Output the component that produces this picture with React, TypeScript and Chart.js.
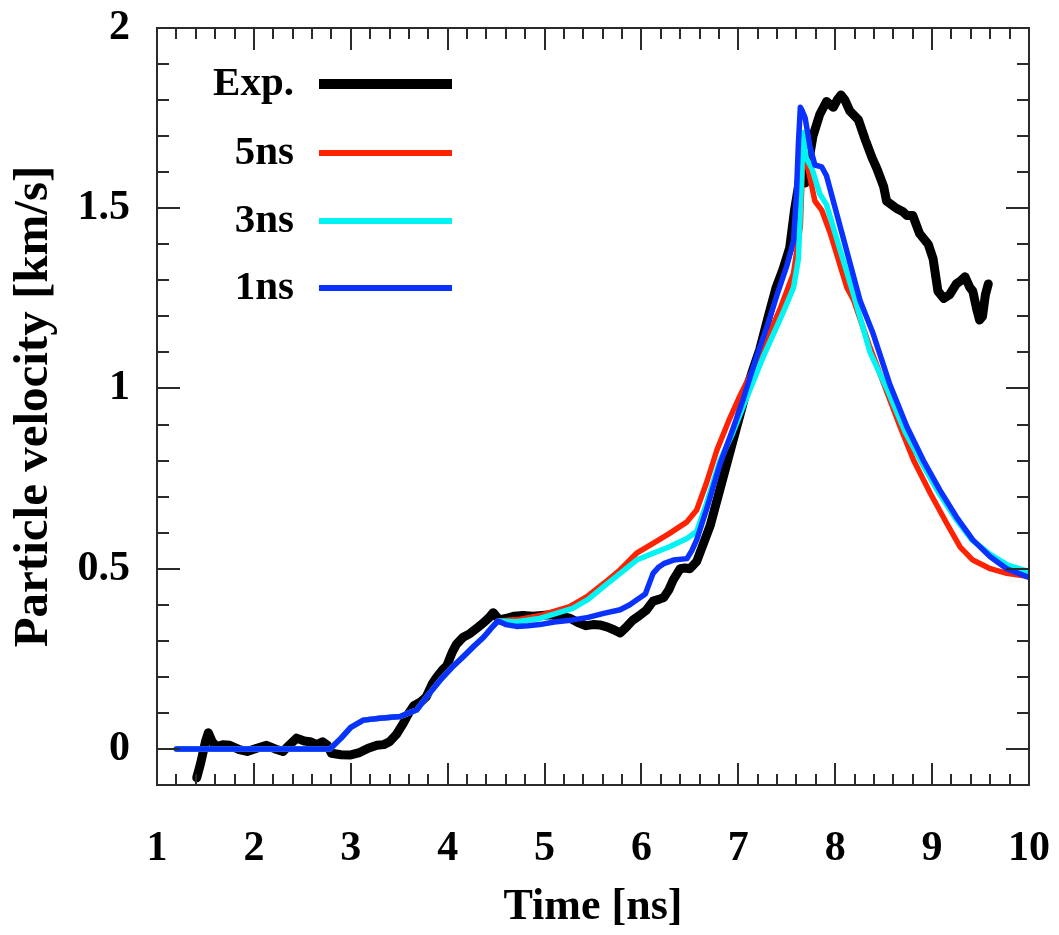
import React, { useEffect, useRef } from 'react';
import { Chart, registerables } from 'chart.js';

Chart.register(...registerables);

const FONT = '"Liberation Serif", "Times New Roman", Times, serif';

// ---- Data ----
const expTime = [
  1.41, 1.45, 1.5, 1.53, 1.57, 1.62, 1.68, 1.75, 1.85, 1.93, 2.03, 2.13, 2.22, 2.3, 2.37, 2.44, 2.52, 2.58, 2.65,
  2.71, 2.76, 2.8, 2.9, 2.99, 3.09, 3.18, 3.27, 3.34, 3.4, 3.47, 3.54, 3.6, 3.65, 3.72, 3.78, 3.84, 3.89, 3.95,
  3.99, 4.05, 4.09, 4.16, 4.23, 4.3, 4.37, 4.43, 4.47, 4.51, 4.54, 4.6, 4.68, 4.78, 4.88, 4.97, 5.06, 5.16, 5.26,
  5.35, 5.43, 5.5, 5.57, 5.65, 5.72, 5.78, 5.85, 5.91, 5.98, 6.05, 6.12, 6.18, 6.23, 6.28, 6.33, 6.4, 6.45, 6.5,
  6.57, 6.64, 6.71, 6.76, 6.81, 6.88, 6.95, 7.02, 7.1, 7.16, 7.22, 7.3, 7.39, 7.46, 7.53, 7.58, 7.62, 7.64, 7.66,
  7.69, 7.72, 7.77, 7.84, 7.91, 7.98, 8.02, 8.06, 8.1, 8.15, 8.24, 8.31, 8.38, 8.43, 8.5, 8.53, 8.58, 8.63, 8.7,
  8.74, 8.8, 8.87, 8.96, 9.01, 9.06, 9.12, 9.18, 9.25, 9.3, 9.34, 9.39, 9.42, 9.46, 9.49, 9.52, 9.55, 9.58,
];
const expVelocity = [
  -0.08, -0.04, 0.02, 0.045, 0.02, 0.006, 0.012, 0.01, -0.002, -0.007, 0.002, 0.01, 0.0, -0.007, 0.012, 0.03, 0.022,
  0.02, 0.012, 0.02, 0.01, -0.012, -0.016, -0.017, -0.01, 0.002, 0.01, 0.012, 0.02, 0.04, 0.07, 0.1, 0.12, 0.13,
  0.145, 0.18, 0.2, 0.22, 0.23, 0.27, 0.29, 0.31, 0.32, 0.335, 0.35, 0.365, 0.378, 0.365, 0.358, 0.362, 0.368, 0.37,
  0.368, 0.37, 0.372, 0.368, 0.363, 0.35, 0.342, 0.345, 0.344, 0.338, 0.33, 0.322, 0.34, 0.357, 0.37, 0.385, 0.41,
  0.415, 0.42, 0.44, 0.47, 0.5, 0.502, 0.5, 0.52, 0.57, 0.62, 0.67, 0.72, 0.79, 0.86, 0.93, 1.01, 1.06, 1.107, 1.19,
  1.28, 1.33, 1.39, 1.495, 1.56, 1.6, 1.58, 1.57, 1.62, 1.7, 1.76, 1.796, 1.78, 1.8, 1.814, 1.8, 1.77, 1.745, 1.69,
  1.64, 1.61, 1.56, 1.52, 1.51, 1.5, 1.49, 1.48, 1.48, 1.43, 1.4, 1.36, 1.27, 1.25, 1.26, 1.29, 1.3, 1.31, 1.28,
  1.27, 1.22, 1.19, 1.2, 1.26, 1.29,
];

const sim5Time = [
  1.2, 2.785, 2.9, 3.0, 3.13, 3.3, 3.51, 3.6, 3.68, 3.8, 3.92, 4.04, 4.16, 4.27, 4.37, 4.45, 4.52, 4.75, 4.95, 5.26,
  5.45, 5.61, 5.78, 5.95, 6.12, 6.29, 6.47, 6.57, 6.67, 6.78, 6.9, 7.0, 7.22, 7.43, 7.57, 7.64, 7.67, 7.72, 7.79,
  7.86, 7.95, 8.12, 8.19, 8.35, 8.5, 8.67, 8.81, 8.98, 9.15, 9.29, 9.42, 9.6, 9.77, 10.0,
];
const sim5Velocity = [
  0, 0, 0.03, 0.06, 0.08, 0.085, 0.09, 0.1, 0.108, 0.15, 0.19, 0.225, 0.256, 0.285, 0.31, 0.335, 0.355, 0.36, 0.37,
  0.395, 0.425, 0.459, 0.497, 0.543, 0.57, 0.598, 0.63, 0.663, 0.737, 0.83, 0.91, 0.97, 1.09, 1.22, 1.32, 1.45,
  1.67, 1.61, 1.52, 1.495, 1.43, 1.28, 1.245, 1.12, 1.014, 0.894, 0.8, 0.71, 0.626, 0.56, 0.524, 0.5, 0.487, 0.478,
];

const sim3Time = [
  1.2, 2.785, 2.9, 3.0, 3.13, 3.3, 3.51, 3.6, 3.68, 3.8, 3.92, 4.04, 4.16, 4.27, 4.37, 4.45, 4.52, 4.71, 4.95, 5.29,
  5.45, 5.61, 5.78, 5.95, 6.12, 6.29, 6.47, 6.57, 6.67, 6.81, 6.94, 7.05, 7.26, 7.46, 7.57, 7.62, 7.64, 7.67, 7.7,
  7.76, 7.84, 7.91, 8.01, 8.19, 8.36, 8.54, 8.72, 8.9, 9.07, 9.24, 9.41, 9.6, 9.78, 10.0,
];
const sim3Velocity = [
  0, 0, 0.03, 0.06, 0.08, 0.085, 0.09, 0.1, 0.108, 0.15, 0.19, 0.225, 0.256, 0.285, 0.31, 0.335, 0.355, 0.353, 0.362,
  0.39, 0.415, 0.45, 0.487, 0.524, 0.543, 0.561, 0.584, 0.603, 0.68, 0.8, 0.875, 0.95, 1.09, 1.21, 1.28, 1.36, 1.495,
  1.71, 1.64, 1.61, 1.54, 1.51, 1.42, 1.26, 1.1, 0.995, 0.88, 0.79, 0.71, 0.64, 0.58, 0.54, 0.51, 0.492,
];

const sim1Time = [
  1.2, 2.785, 2.9, 3.0, 3.13, 3.3, 3.51, 3.6, 3.68, 3.8, 3.92, 4.04, 4.16, 4.27, 4.37, 4.45, 4.52, 4.6, 4.71, 4.83,
  4.95, 5.1, 5.29, 5.45, 5.61, 5.78, 5.88, 5.95, 6.04, 6.12, 6.18, 6.23, 6.33, 6.47, 6.52, 6.57, 6.67, 6.81, 6.94,
  7.05, 7.19, 7.3, 7.4, 7.5, 7.57, 7.6, 7.62, 7.64, 7.66, 7.69, 7.74, 7.79, 7.86, 7.91, 7.98, 8.08, 8.22, 8.255,
  8.39, 8.56, 8.74, 8.91, 9.08, 9.25, 9.42, 9.6, 9.77, 10.0,
];
const sim1Velocity = [
  0, 0, 0.03, 0.06, 0.08, 0.085, 0.09, 0.1, 0.108, 0.15, 0.19, 0.225, 0.256, 0.285, 0.31, 0.335, 0.355, 0.345, 0.34,
  0.342, 0.345, 0.352, 0.358, 0.365, 0.376, 0.386, 0.4, 0.413, 0.43, 0.487, 0.505, 0.514, 0.524, 0.528, 0.55, 0.58,
  0.663, 0.79, 0.885, 0.97, 1.09, 1.175, 1.26, 1.34, 1.41, 1.54, 1.68, 1.78, 1.77, 1.75, 1.67, 1.62, 1.615, 1.59,
  1.52, 1.42, 1.28, 1.245, 1.153, 1.014, 0.894, 0.8, 0.718, 0.644, 0.58, 0.533, 0.5, 0.476,
];

const seriesNames = ['Exp.', '5ns', '3ns', '1ns'];
const xTickValues = [1, 2, 3, 4, 5, 6, 7, 8, 9, 10];
const xTickLabels = ['1', '2', '3', '4', '5', '6', '7', '8', '9', '10'];
const yTickValues = [0, 0.5, 1, 1.5, 2];
const yTickLabels = ['0', '0.5', '1', '1.5', '2'];

// ---- Styles ----
const COLORS = ['#000000', '#ff2200', '#00f4f4', '#0a32ff'];
const WIDTHS = [9, 5.5, 5.5, 5.5];

const toPoints = (xs: number[], ys: number[]) => xs.map((x, i) => ({ x, y: ys[i] }));

const zeroPadding = (s: any) => {
  s.paddingTop = 0;
  s.paddingBottom = 0;
  s.paddingLeft = 0;
  s.paddingRight = 0;
};

const framePlugin = {
  id: 'frameAndLegend',
  afterDatasetsDraw(chart: any) {
    const { ctx, chartArea: a } = chart;
    const xs = chart.scales.x;
    const ys = chart.scales.y;
    ctx.save();
    ctx.strokeStyle = '#2a2a2a';
    ctx.lineWidth = 2;
    ctx.strokeRect(a.left, a.top, a.right - a.left, a.bottom - a.top);
    ctx.beginPath();
    for (let i = 0; i <= 45; i++) {
      const v = 1 + i * 0.2;
      const major = i % 5 === 0;
      const len = major ? 22 : 11;
      const px = Math.round(xs.getPixelForValue(v));
      ctx.moveTo(px, a.bottom);
      ctx.lineTo(px, a.bottom - len);
      ctx.moveTo(px, a.top);
      ctx.lineTo(px, a.top + len);
    }
    for (let i = 0; i <= 20; i++) {
      const v = i * 0.1;
      const major = i % 5 === 0;
      const len = major ? 23 : 12;
      const py = Math.round(ys.getPixelForValue(v));
      ctx.moveTo(a.left, py);
      ctx.lineTo(a.left + len, py);
      ctx.moveTo(a.right, py);
      ctx.lineTo(a.right - len, py);
    }
    ctx.stroke();

    // legend
    const rows = [84, 153, 221, 288];
    ctx.font = `bold 41px ${FONT}`;
    ctx.textAlign = 'right';
    ctx.textBaseline = 'alphabetic';
    ctx.fillStyle = '#000';
    seriesNames.forEach((name, i) => {
      const yy = rows[i];
      ctx.fillText(name, 294, yy + 11);
      ctx.beginPath();
      ctx.strokeStyle = COLORS[i];
      ctx.lineWidth = i === 0 ? 10 : 6;
      ctx.lineCap = 'butt';
      ctx.moveTo(319, yy);
      ctx.lineTo(452, yy);
      ctx.stroke();
    });
    ctx.restore();
  },
};

export default function App() {
  const ref = useRef<HTMLCanvasElement>(null);

  useEffect(() => {
    const canvas = ref.current;
    if (!canvas) return;
    const mk = (i: number, xs: number[], ys: number[], order: number) => ({
      label: seriesNames[i],
      data: toPoints(xs, ys),
      borderColor: COLORS[i],
      backgroundColor: COLORS[i],
      borderWidth: WIDTHS[i],
      pointRadius: 0,
      pointHoverRadius: 0,
      fill: false,
      tension: 0,
      borderJoinStyle: 'round' as const,
      borderCapStyle: 'round' as const,
      order,
    });
    const chart = new Chart(canvas, {
      type: 'line',
      data: {
        datasets: [
          mk(0, expTime, expVelocity, 4),
          mk(1, sim5Time, sim5Velocity, 3),
          mk(2, sim3Time, sim3Velocity, 2),
          mk(3, sim1Time, sim1Velocity, 1),
        ],
      },
      options: {
        animation: false,
        responsive: false,
        devicePixelRatio: 1,
        layout: { padding: { top: 28, right: 30, left: 0, bottom: 0 } },
        plugins: {
          legend: { display: false },
          tooltip: { enabled: false },
        },
        scales: {
          x: {
            type: 'linear',
            min: 1,
            max: 10,
            afterBuildTicks: (s: any) => {
              s.ticks = xTickValues.map((v) => ({ value: v }));
            },
            afterFit: (s: any) => {
              s.height = 150;
              zeroPadding(s);
            },
            grid: { display: false, drawTicks: false },
            border: { display: false },
            ticks: {
              autoSkip: false,
              maxRotation: 0,
              minRotation: 0,
              padding: 39,
              color: '#000',
              font: { family: FONT, size: 42, weight: 'bold' },
              callback: (v: any) => xTickLabels[xTickValues.indexOf(Number(v))] ?? String(v),
            },
            title: {
              display: true,
              text: 'Time [ns]',
              color: '#000',
              font: { family: FONT, size: 44, weight: 'bold' },
              padding: { top: 0, bottom: 1 },
            },
          },
          y: {
            type: 'linear',
            min: -0.1,
            max: 2,
            afterBuildTicks: (s: any) => {
              s.ticks = yTickValues.map((v) => ({ value: v }));
            },
            afterFit: (s: any) => {
              s.width = 157;
              zeroPadding(s);
            },
            grid: { display: false, drawTicks: false },
            border: { display: false },
            ticks: {
              padding: 27,
              color: '#000',
              font: { family: FONT, size: 42, weight: 'bold' },
              callback: (v: any) => yTickLabels[yTickValues.indexOf(Number(v))] ?? String(v),
            },
            title: {
              display: true,
              text: 'Particle velocity [km/s]',
              color: '#000',
              font: { family: FONT, size: 49, weight: 'bold' },
              padding: { top: 5, bottom: 0 },
            },
          },
        },
      },
      plugins: [framePlugin],
    });
    return () => chart.destroy();
  }, []);

  return (
    <div style={{ position: 'absolute', left: 0, top: 0, width: 1059, height: 935, background: '#fff' }}>
      <canvas ref={ref} width={1059} height={935} style={{ display: 'block', width: 1059, height: 935 }} />
    </div>
  );
}
